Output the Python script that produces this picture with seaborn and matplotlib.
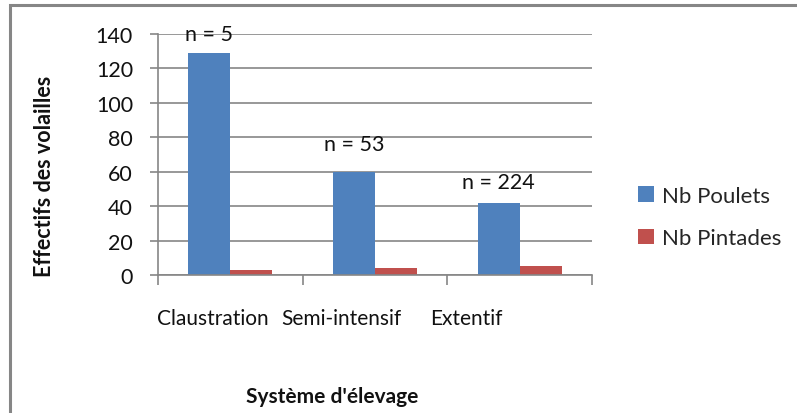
import matplotlib
matplotlib.use("Agg")
import matplotlib.pyplot as plt
import matplotlib.transforms as mtransforms
from matplotlib.patches import Rectangle
import seaborn as sns
import pandas as pd

# Data
systemes = ["Claustration", "Semi-intensif", "Extentif"]
nb_poulets = [129, 60, 42]
nb_pintades = [3, 4, 5]
effectifs_n = ["n = 5", "n = 53", "n = 224"]
series_names = ["Nb Poulets", "Nb Pintades"]
y_ticks = [0, 20, 40, 60, 80, 100, 120, 140]

df = pd.DataFrame({
    "Système": systemes * 2,
    "Série": [series_names[0]] * 3 + [series_names[1]] * 3,
    "Effectif": nb_poulets + nb_pintades,
})

sns.set_theme(style="white")
plt.rcParams["font.family"] = ["Lato", "DejaVu Sans"]

GRID = "#868686"
palette = {series_names[0]: "#4F81BD", series_names[1]: "#C0504D"}

fig = plt.figure(figsize=(7.97, 4.14), dpi=100)
ax = fig.add_axes([158 / 797, 1 - 276 / 414, (592 - 158) / 797, (276 - 35) / 414])

sns.barplot(data=df, x="Système", y="Effectif", hue="Série", order=systemes,
            hue_order=series_names, palette=palette, width=0.58, gap=0,
            saturation=1, linewidth=0, edgecolor="none", ax=ax, legend=True)

ax.set_ylim(0, 140)
ax.set_xlim(-0.5, len(systemes) - 0.5)
ax.set_yticks(y_ticks)
ax.set_yticklabels([str(v) for v in y_ticks], fontsize=15.5, color="#111111")
ax.yaxis.grid(True, color=GRID, linewidth=1.2)
ax.set_axisbelow(True)
for s in ["top", "right"]:
    ax.spines[s].set_visible(False)
for s in ["left", "bottom"]:
    ax.spines[s].set_color(GRID)
    ax.spines[s].set_linewidth(1.2)
ax.tick_params(axis="y", which="major", left=True, length=6, width=1.2,
               color=GRID, pad=12)

# category boundary ticks
ax.set_xticks([i - 0.5 for i in range(len(systemes) + 1)], minor=True)
ax.tick_params(axis="x", which="minor", bottom=True, length=7, width=1.2, color=GRID)
ax.tick_params(axis="x", which="major", bottom=False, length=0, pad=24)
ax.set_xticklabels(systemes, fontsize=15, color="#111111")
label_shift_px = [-18, -34, -53]
for lbl, dx in zip(ax.get_xticklabels(), label_shift_px):
    lbl.set_transform(lbl.get_transform() +
                      mtransforms.ScaledTranslation(dx / 100, 0, fig.dpi_scale_trans))

ax.set_xlabel("")
ax.set_ylabel("Effectifs des volailles", fontsize=15.5, fontweight="bold",
              color="#111111")
ax.yaxis.set_label_coords(-0.238, 0.415)

# "n = ..." above each poultry bar
blue_bars = ax.containers[0]
gap_px = [9, 18, 11]
for rect, txt, g in zip(blue_bars, effectifs_n, gap_px):
    ax.annotate(txt, (rect.get_x() + rect.get_width() / 2, rect.get_height()),
                xytext=(0, g * 0.72), textcoords="offset points",
                ha="center", va="bottom", fontsize=15.5, color="#111111")

leg = ax.legend(loc="center left", bbox_to_anchor=(1.06, 0.24), frameon=False,
                fontsize=16, handlelength=0.7, handleheight=0.7,
                handletextpad=0.4, labelspacing=1.0)

fig.text(332 / 797, 1 - 397 / 414, "Système d'élevage", ha="center", va="center",
         fontsize=15, fontweight="bold", color="#111111")

# chart frame
fig.patches.append(Rectangle((10 / 797, -0.1), 1.1, 1 - 6 / 414 + 0.1,
                             transform=fig.transFigure, fill=False,
                             edgecolor=GRID, linewidth=2.2, zorder=10))

fig.savefig("out.png", dpi=100)
